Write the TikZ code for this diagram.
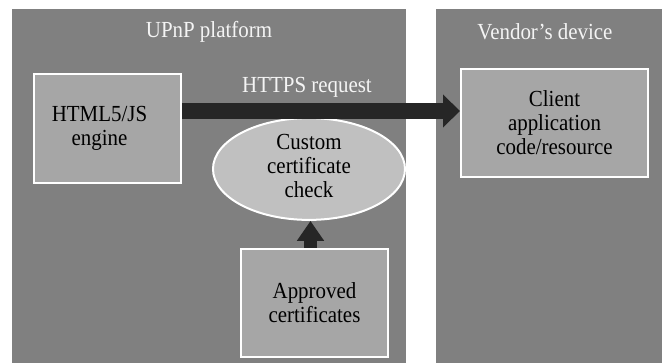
\documentclass[tikz,border=0pt]{standalone}
\usepackage{fontspec}
\setmainfont{Liberation Serif}[FakeStretch=0.91]
\usetikzlibrary{shapes.geometric,arrows.meta}
\begin{document}
\begin{tikzpicture}[x=1pt,y=1pt,
  panel/.style={fill=panelgray,draw=none},
  txt/.style={font=\fontsize{23}{24}\selectfont},
  boxnode/.style={draw=white,line width=2pt,fill=boxgray,inner sep=0pt,align=center,txt},
  title/.style={text=titlewhite,txt,inner sep=0pt},
  bigarrow/.style={draw=arrowdark,line width=16pt,-{Triangle[length=17pt,width=32pt]}},
  uparrow/.style={draw=arrowdark,line width=13pt,-{Triangle[length=20pt,width=26pt]}}]
\definecolor{panelgray}{HTML}{808080}
\definecolor{boxgray}{HTML}{A6A6A6}
\definecolor{ellgray}{HTML}{C0C0C0}
\definecolor{arrowdark}{HTML}{262626}
\definecolor{titlewhite}{HTML}{F4F4F4}
\useasboundingbox (0,0) rectangle (662,-363);
\clip (0,0) rectangle (662,-363);
\fill[white] (0,0) rectangle (662,-363);
\fill[panel] (12,-9) rectangle (406,-370);
\fill[panel] (436,-9) rectangle (670,-370);
\node[title] (t1) at (209,-32) {UPnP platform};
\node[title] (t2) at (545,-32) {Vendor’s device};
\node[boxnode,minimum width=147pt,minimum height=109pt] (html) at (107.5,-128.5) {\hspace*{-16pt}\begin{tabular}{@{}c@{}}HTML5/JS\\engine\end{tabular}};
\node[boxnode,minimum width=187pt,minimum height=108pt] (client) at (554.5,-123) {Client\\application\\code/resource};
\node[boxnode,minimum width=147pt,minimum height=108pt] (appr) at (314.5,-303) {Approved\\certificates};
\node[boxnode,ellipse,fill=ellgray,minimum width=192pt,minimum height=86pt] (ell) at (309,-169) {\raisebox{6pt}{\begin{tabular}{@{}c@{}}Custom\\certificate\\check\end{tabular}}};
\coordinate (ay) at (0,-111);
\draw[bigarrow] (html.east |- ay) -- (client.west |- ay);
\node[title] (https) at (307,-87) {HTTPS request};
\draw[uparrow] (appr.north -| 310.5,0) -- (ell.south -| 310.5,0);
\end{tikzpicture}
\end{document}
